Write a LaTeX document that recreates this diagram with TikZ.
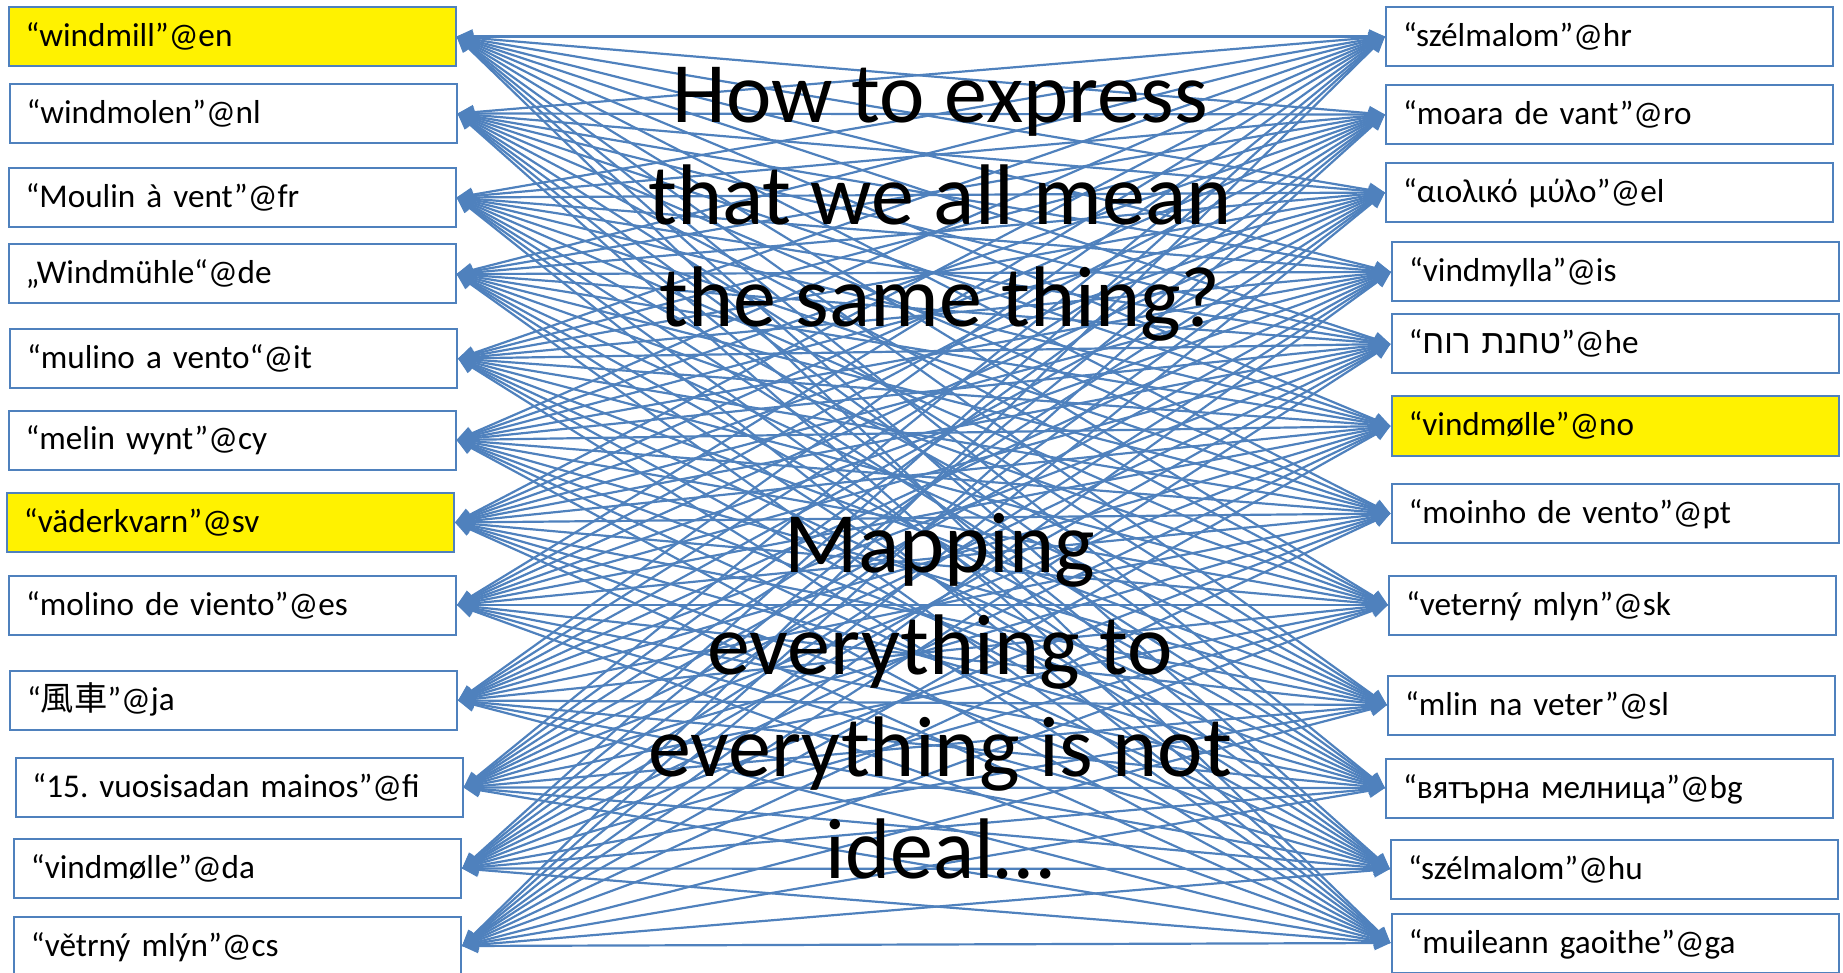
\documentclass[tikz,border=0pt]{standalone}
\usepackage{fontspec}
\setmainfont{Carlito}
\newfontfamily\cjk{Noto Sans CJK JP}
\newfontfamily\hebfont[Script=Hebrew]{Liberation Sans}
\TeXXeTstate=1
\frenchspacing
\usetikzlibrary{arrows.meta}
\definecolor{officeblue}{HTML}{4F81BD}

\begin{document}
\begin{tikzpicture}[x=0.5pt,y=-0.5pt]
	\tikzstyle{word}=[rectangle, draw=officeblue, line width=1pt, fill=white, minimum height=29.5pt, inner xsep=8.5pt, text width=206.5pt, align=left, text height=14pt, text depth=4pt, font=\fontsize{16.6}{20}\selectfont]
	\tikzstyle{hl}=[word, fill=yellow]
	\tikzstyle{connect}=[{Triangle[length=8pt,width=7pt]}-{Triangle[length=8pt,width=7pt]}, draw=officeblue, line width=1.1pt]
	\tikzstyle{big}=[align=center, font=\fontsize{43}{51}\selectfont, anchor=base]
	\useasboundingbox (0,0) rectangle (1843,973);
	% left column
	\node[hl] (en) at (232,36.5) {“windmill”@en};
	\node[word] (nl) at (233,113.5) {“windmolen”@nl};
	\node[word] (fr) at (232,197.5) {“Moulin à vent”@fr};
	\node[word] (de) at (232,274) {„Windmühle“@de};
	\node[word] (it) at (233.5,358.5) {“mulino a vento“@it};
	\node[word] (cy) at (232,440) {“melin wynt”@cy};
	\node[hl] (sv) at (230.5,522.5) {“väderkvarn”@sv};
	\node[word] (es) at (232.5,605) {“molino de viento”@es};
	\node[word] (ja) at (233.5,700.5) {“{\cjk 風車}”@ja};
	\node[word] (fi) at (239,787.5) {“15. vuosisadan mainos”@fi};
	\node[word] (da) at (237.5,868.5) {“vindmølle”@da};
	\node[word] (cs) at (237.5,946) {“větrný mlýn”@cs};
	% right column
	\node[word] (hr) at (1609.5,36.5) {“szélmalom”@hr};
	\node[word] (ro) at (1609.5,114.5) {“moara de vant”@ro};
	\node[word] (el) at (1609.5,192.5) {“αιολικό μύλο”@el};
	\node[word] (is) at (1615.5,272) {“vindmylla”@is};
	\node[word] (he) at (1615,344) {“{\hebfont\beginR טחנת רוח\endR}”@he};
	\node[hl] (no) at (1615,426) {“vindmølle”@no};
	\node[word] (pt) at (1615,513.5) {“moinho de vento”@pt};
	\node[word] (sk) at (1612.5,605) {“veterný mlyn”@sk};
	\node[word] (sl) at (1611.5,705) {“mlin na veter”@sl};
	\node[word] (bg) at (1609.5,788) {“вятърна мелница”@bg};
	\node[word] (hu) at (1614.5,869) {“szélmalom”@hu};
	\node[word] (ga) at (1615,943) {“muileann gaoithe”@ga};
	% everything to everything
	\foreach \l in {en,nl,fr,de,it,cy,sv,es,ja,fi,da,cs}
		\foreach \r in {hr,ro,el,is,he,no,pt,sk,sl,bg,hu,ga}
			\path (\l.east) edge [connect] (\r.west);
	\node[big] (question) at (940,327) {How to express\\that we all mean\\the same thing?};
	\node[big] (mapping) at (940,878) {Mapping\\everything to\\everything is not\\ideal…};
\end{tikzpicture}
\end{document}
